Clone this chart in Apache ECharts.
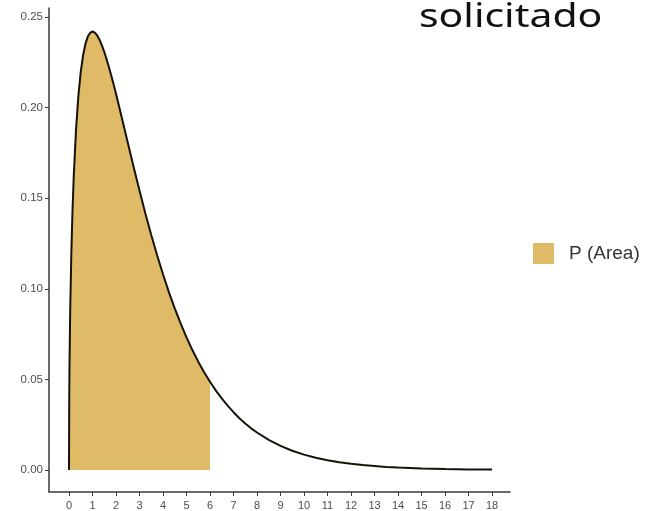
<!DOCTYPE html>
<html>
<head>
<meta charset="utf-8">
<script src="https://cdn.jsdelivr.net/npm/echarts@6/dist/echarts.min.js"></script>
<style>
html,body{margin:0;padding:0;background:#fff;}
#main{width:652px;height:511px;}
</style>
</head>
<body>
<div id="main"></div>
<script>
// Values (density curve)
var xValues = [0, 0.01, 0.02, 0.05, 0.1, 0.15, 0.2, 0.3, 0.4, 0.5, 0.6, 0.7, 0.8, 0.9, 1.0, 1.1, 1.2, 1.3, 1.4, 1.5, 1.6, 1.7, 1.8, 1.9, 2.0, 2.25, 2.5, 2.75, 3.0, 3.25, 3.5, 3.75, 4.0, 4.25, 4.5, 4.75, 5.0, 5.25, 5.5, 5.75, 6.0, 6.25, 6.5, 6.75, 7.0, 7.25, 7.5, 7.75, 8.0, 8.5, 9.0, 9.5, 10.0, 10.5, 11.0, 11.5, 12.0, 12.5, 13.0, 13.5, 14.0, 15.0, 16.0, 17.0, 18.0];
var densityValues = [0, 0.0397, 0.0559, 0.0870, 0.1200, 0.1433, 0.1614, 0.1881, 0.2066, 0.2197, 0.2289, 0.2352, 0.2392, 0.2413, 0.2420, 0.2414, 0.2398, 0.2374, 0.2344, 0.2308, 0.2267, 0.2223, 0.2176, 0.2127, 0.2076, 0.1943, 0.1807, 0.1672, 0.1542, 0.1416, 0.1297, 0.1185, 0.1080, 0.0982, 0.0892, 0.0809, 0.0732, 0.0662, 0.0598, 0.0539, 0.0487, 0.0438, 0.0395, 0.0355, 0.0319, 0.0286, 0.0257, 0.0230, 0.0207, 0.0166, 0.0133, 0.0106, 0.0085, 0.0068, 0.0054, 0.0043, 0.0034, 0.0027, 0.0022, 0.0017, 0.0014, 0.00085, 0.00053, 0.00033, 0.00021];
var areaLimit = 6;
var xTicks = [0, 1, 2, 3, 4, 5, 6, 7, 8, 9, 10, 11, 12, 13, 14, 15, 16, 17, 18];
var yTicks = [0, 0.05, 0.10, 0.15, 0.20, 0.25];
var legendName = 'P (Area)';
var titleText = 'solicitado';

var fullData = xValues.map(function (x, i) { return [x, densityValues[i]]; });
var areaData = fullData.filter(function (p) { return p[0] <= areaLimit; });

var fillColor = '#DFBB68';
var axisColor = '#3a3a3a';
var labelColor = '#4d4d4d';

var chart = echarts.init(document.getElementById('main'), null, {renderer: 'canvas'});
chart.setOption({
  backgroundColor: '#ffffff',
  animation: false,
  grid: {left: 49, right: 142, top: 8, bottom: 19, containLabel: false},
  xAxis: {
    type: 'value',
    min: -0.851,
    max: 18.766,
    splitLine: {show: false},
    axisLine: {show: true, onZero: false, lineStyle: {color: axisColor, width: 1.5}},
    axisTick: {show: true, length: 4, lineStyle: {color: axisColor, width: 1}, customValues: xTicks},
    axisLabel: {customValues: xTicks, color: labelColor, fontSize: 11, fontFamily: 'Liberation Sans, Arial, sans-serif', margin: 8}
  },
  yAxis: {
    type: 'value',
    min: -0.01214,
    max: 0.25497,
    splitLine: {show: false},
    axisLine: {show: true, onZero: false, lineStyle: {color: axisColor, width: 1.5}},
    axisTick: {show: true, length: 4, lineStyle: {color: axisColor, width: 1}, customValues: yTicks},
    axisLabel: {customValues: yTicks, color: labelColor, fontSize: 11.5, fontFamily: 'Liberation Sans, Arial, sans-serif', margin: 6,
      formatter: function (v) { return v.toFixed(2); }}
  },
  legend: {
    data: [legendName],
    left: 533,
    top: 243,
    padding: 0,
    orient: 'vertical',
    icon: 'rect',
    itemWidth: 21,
    itemHeight: 21,
    textStyle: {color: '#333333', fontSize: 19, fontFamily: 'Liberation Sans, Arial, sans-serif', padding: [0, 0, 0, 10]}
  },
  graphic: [{
    type: 'text',
    left: 419,
    top: 1,
    scaleX: 1.24,
    style: {text: titleText, fontSize: 33, fontFamily: 'Noto Sans, Open Sans, sans-serif', fill: '#111111'}
  }],
  series: [
    {
      name: legendName,
      type: 'line',
      data: areaData,
      symbol: 'none',
      itemStyle: {color: fillColor},
      lineStyle: {width: 0, color: fillColor},
      areaStyle: {color: fillColor, opacity: 1},
      z: 1
    },
    {
      name: 'curve',
      type: 'line',
      data: fullData,
      symbol: 'none',
      itemStyle: {color: '#111111'},
      lineStyle: {width: 2, color: '#151309'},
      z: 2
    }
  ]
});
</script>
</body>
</html>
